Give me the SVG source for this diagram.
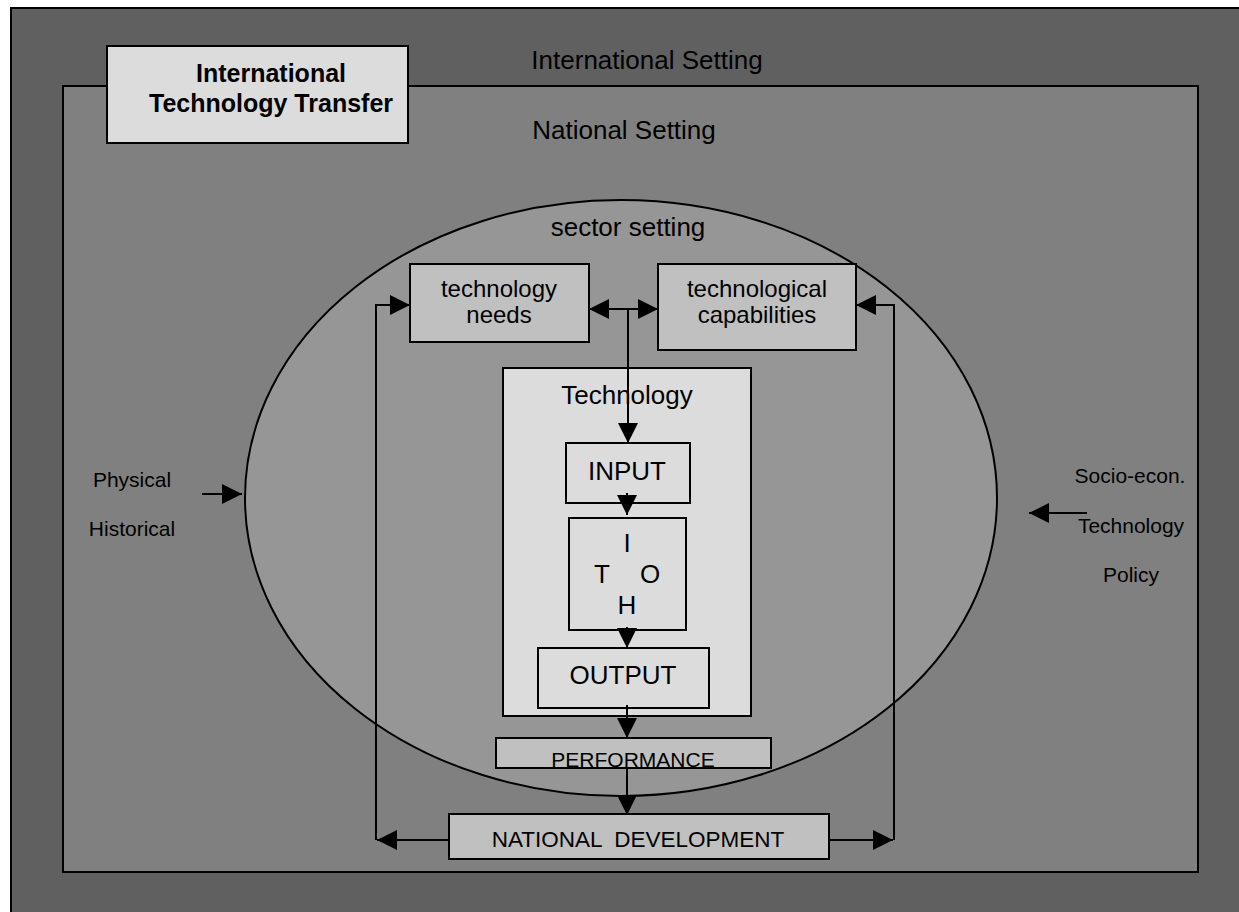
<svg xmlns="http://www.w3.org/2000/svg" width="1239" height="912" viewBox="0 0 1239 912">
<style>
text { font-family: "Liberation Sans", Arial, sans-serif; fill: #000; }
.box { stroke: #000; stroke-width: 2; }
.light { fill: #dcdcdc; }
.mid { fill: #c0c0c0; }
.conn { stroke: #000; stroke-width: 2; fill: none; }
.c { text-anchor: middle; }
</style>
<defs>
<marker id="ah" markerUnits="userSpaceOnUse" markerWidth="20" markerHeight="20" refX="20" refY="10" orient="auto-start-reverse" viewBox="0 0 20 20">
<path d="M0,0 L20,10 L0,20 z" fill="#000"/>
</marker>
</defs>
<rect width="1239" height="912" fill="#ffffff"/>
<g id="international-setting">
<rect x="11" y="8" width="1240" height="920" fill="#606060" class="box"/>
<text x="647" y="69" class="c" font-size="26">International Setting</text>
</g>
<g id="national-setting">
<rect x="63" y="86" width="1135" height="786" fill="#808080" class="box"/>
<text x="624" y="139" class="c" font-size="26">National Setting</text>
</g>
<g id="itt">
<rect x="107" y="46" width="301" height="97" class="box light"/>
<text x="271" y="82" class="c" font-size="25" font-weight="bold">International</text>
<text x="271" y="112" class="c" font-size="25" font-weight="bold">Technology Transfer</text>
</g>
<g id="sector-setting">
<ellipse cx="621" cy="498" rx="376" ry="298" fill="#969696" stroke="#000" stroke-width="2"/>
<text x="628" y="236" class="c" font-size="26">sector setting</text>
</g>
<g id="physical">
<text x="132" y="487" class="c" font-size="21">Physical</text>
<text x="132" y="536" class="c" font-size="21">Historical</text>
</g>
<g id="socio">
<text x="1130" y="483" class="c" font-size="21">Socio-econ.</text>
<text x="1131" y="533" class="c" font-size="21">Technology</text>
<text x="1131" y="582" class="c" font-size="21">Policy</text>
</g>
<g id="tech-needs">
<rect x="410" y="264" width="179" height="78" class="box mid"/>
<text x="499" y="297" class="c" font-size="24">technology</text>
<text x="499" y="323" class="c" font-size="24">needs</text>
</g>
<g id="tech-capabilities">
<rect x="658" y="264" width="198" height="86" class="box mid"/>
<text x="757" y="297" class="c" font-size="24">technological</text>
<text x="757" y="323" class="c" font-size="24">capabilities</text>
</g>
<g id="technology">
<rect x="503" y="368" width="248" height="348" class="box light"/>
<text x="627" y="404" class="c" font-size="26">Technology</text>
</g>
<g id="input">
<rect x="566" y="443" width="124" height="60" class="box light"/>
<text x="627" y="480" class="c" font-size="26">INPUT</text>
</g>
<g id="itoh">
<rect x="569" y="518" width="117" height="112" class="box light"/>
<text x="627" y="552" class="c" font-size="26">I</text>
<text x="602" y="583" class="c" font-size="26">T</text>
<text x="650" y="583" class="c" font-size="26">O</text>
<text x="627" y="614" class="c" font-size="26">H</text>
</g>
<g id="output">
<rect x="538" y="648" width="171" height="60" class="box light"/>
<text x="623" y="684" class="c" font-size="26">OUTPUT</text>
</g>
<g id="performance">
<rect x="496" y="738" width="275" height="30" class="box mid"/>
<text x="633" y="767" class="c" font-size="21">PERFORMANCE</text>
</g>
<g id="national-development">
<rect x="449" y="814" width="380" height="45" class="box mid"/>
<text x="638" y="847" class="c" font-size="22.5" xml:space="preserve">NATIONAL  DEVELOPMENT</text>
</g>
<g id="connectors">
<path class="conn" d="M376,840 L376,305 L410,305" marker-end="url(#ah)"/>
<path class="conn" d="M894,840 L894,305 L856,305" marker-end="url(#ah)"/>
<path class="conn" d="M589,309 L658,309" marker-start="url(#ah)" marker-end="url(#ah)"/>
<path class="conn" d="M628,309 L628,443" marker-end="url(#ah)"/>
<path class="conn" d="M627,493 L627,515" marker-end="url(#ah)"/>
<path class="conn" d="M627,627 L627,648" marker-end="url(#ah)"/>
<path class="conn" d="M627,705 L627,738" marker-end="url(#ah)"/>
<path class="conn" d="M627,768 L627,815" marker-end="url(#ah)"/>
<path class="conn" d="M449,840 L377,840" marker-end="url(#ah)"/>
<path class="conn" d="M829,840 L893,840" marker-end="url(#ah)"/>
<path class="conn" d="M202,494 L242,494" marker-end="url(#ah)"/>
<path class="conn" d="M1087,513 L1029,513" marker-end="url(#ah)"/>
</g>
</svg>
